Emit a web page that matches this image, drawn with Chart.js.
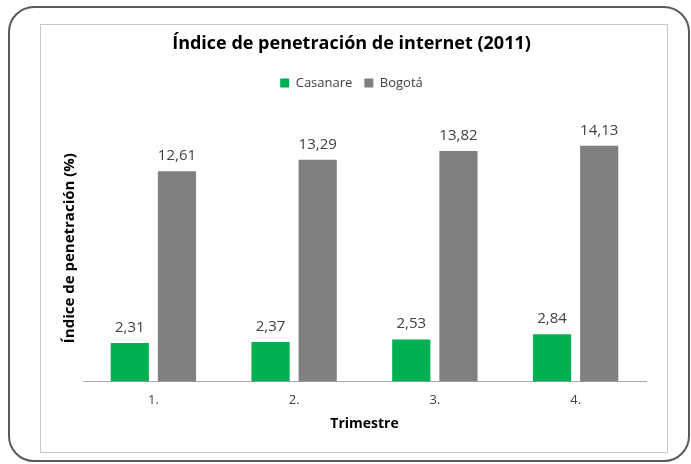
<!DOCTYPE html>
<html>
<head>
<meta charset="utf-8">
<script src="https://cdn.jsdelivr.net/npm/chart.js@4.4.0/dist/chart.umd.min.js"></script>
<style>
    html, body { margin: 0; padding: 0; background: #fff; }
    #frame {
        position: absolute; left: 8px; top: 6px;
        width: 678px; height: 452px;
        border: 2px solid #5a5a5a; border-radius: 26px;
    }
    #box {
        position: absolute; left: 40px; top: 24px;
        width: 626px; height: 427px;
        border: 1px solid #c8c8c8; background: #fff;
    }
    #myChart { display: block; }
</style>
</head>
<body>
<div id="frame"></div>
<div id="box"><canvas id="myChart" width="626" height="427"></canvas></div>
<script>
"use strict";

const trimestres = ["1.", "2.", "3.", "4."];
const casanare = [2.31, 2.37, 2.53, 2.84];
const bogota = [12.61, 13.29, 13.82, 14.13];

const textColor = "#404040";
const fontFamily = "'Open Sans', 'Liberation Sans', sans-serif";

// value labels above each bar, with a decimal comma
const barLabels = {
    id: "barLabels",
    afterDatasetsDraw(chart) {
        const ctx = chart.ctx;
        ctx.save();
        ctx.font = `15px ${fontFamily}`;
        ctx.fillStyle = textColor;
        ctx.textAlign = "center";
        ctx.textBaseline = "alphabetic";
        chart.data.datasets.forEach((ds, i) => {
            chart.getDatasetMeta(i).data.forEach((bar, j) => {
                const txt = ds.data[j].toFixed(2).replace(".", ",");
                ctx.fillText(txt, bar.x, bar.y - 11);
            });
        });
        ctx.restore();
    }
};

// extra room between the legend and the bars
const legendGap = {
    id: "legendGap",
    beforeInit(chart) {
        const fit = chart.legend.fit;
        chart.legend.fit = function () {
            fit.call(this);
            this.height += 15;
        };
    }
};

const renderChart = () => {
    const ctx = document.getElementById("myChart");

    new Chart(ctx, {
        type: "bar",
        data: {
            labels: trimestres,
            datasets: [{
                label: "Casanare",
                data: casanare,
                backgroundColor: "#00b050",
                categoryPercentage: 0.67,
                barPercentage: 0.81
            }, {
                label: "Bogotá",
                data: bogota,
                backgroundColor: "#808080",
                categoryPercentage: 0.67,
                barPercentage: 0.81
            }]
        },
        options: {
            responsive: false,
            animation: false,
            layout: {
                padding: { left: 16, right: 21, top: 0, bottom: 20 }
            },
            plugins: {
                title: {
                    display: true,
                    text: "Índice de penetración de internet (2011)",
                    color: "#000",
                    font: { family: fontFamily, size: 18, weight: "bold" },
                    padding: { top: 8, bottom: 10 }
                },
                legend: {
                    display: true,
                    labels: {
                        color: textColor,
                        font: { family: fontFamily, size: 13 },
                        boxWidth: 9,
                        boxHeight: 9,
                        padding: 12
                    }
                },
                tooltip: { enabled: false }
            },
            scales: {
                x: {
                    grid: { display: false },
                    border: { color: "#a6a6a6", width: 1 },
                    ticks: {
                        color: textColor,
                        font: { family: fontFamily, size: 13 },
                        padding: 3
                    },
                    title: {
                        display: true,
                        text: "Trimestre",
                        color: "#000",
                        font: { family: fontFamily, size: 14, weight: "bold" },
                        padding: { top: 4, bottom: 0 }
                    }
                },
                y: {
                    min: 0,
                    max: 16,
                    grid: { display: false },
                    border: { display: false },
                    ticks: { display: false },
                    afterFit(scale) {
                        scale.width = 26;
                    },
                    title: {
                        display: true,
                        text: "Índice de penetración (%)",
                        color: "#000",
                        font: { family: fontFamily, size: 15, weight: "bold" },
                        padding: { top: 4, bottom: 0 }
                    }
                }
            }
        },
        plugins: [barLabels, legendGap]
    });
};

document.addEventListener("DOMContentLoaded", () => {
    renderChart();
});
</script>
</body>
</html>
